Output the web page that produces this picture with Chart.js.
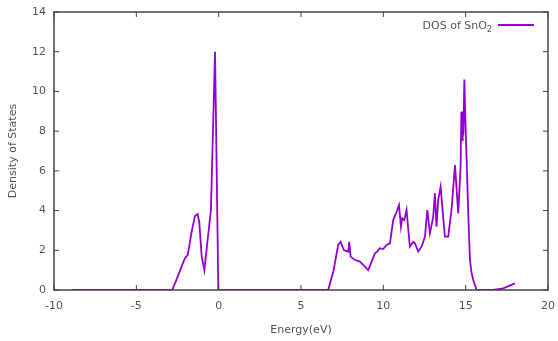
<!DOCTYPE html>
<html>
<head>
<meta charset="utf-8">
<script src="https://cdn.jsdelivr.net/npm/chart.js@4.4.1/dist/chart.umd.min.js"></script>
<style>
  body { margin: 0; background: #fff; }
  #wrap { width: 558px; height: 341px; position: relative; }
</style>
</head>
<body>
<div id="wrap"><canvas id="dosChart"></canvas></div>
<script>
// DATA

const energies = [
  -8.9, -2.82, -2.55, -2.05, -1.88, -1.64, -1.44, -1.28, -1.18, -1.03, -0.87, -0.67, -0.47, -0.22, -0.02,
  6.65, 6.96, 7.26, 7.4, 7.6, 7.87, 7.93, 8.01, 8.28, 8.58, 8.78, 9.08, 9.29, 9.49, 9.63, 9.79, 9.99,
  10.2, 10.4, 10.6, 10.81, 10.95, 11.07, 11.15, 11.27, 11.41, 11.61, 11.81, 11.92, 12.12, 12.32, 12.53,
  12.67, 12.83, 13.03, 13.13, 13.23, 13.33, 13.48, 13.6, 13.74, 13.94, 14.14, 14.35, 14.55, 14.69,
  14.74, 14.78, 14.82, 14.86, 14.92, 15.0, 15.06, 15.15, 15.26, 15.35, 15.46, 15.66, 16.67, 17.28, 17.99
];
const dosValues = [
  0, 0, 0.55, 1.6, 1.76, 2.94, 3.73, 3.83, 3.44, 1.68, 1.0, 2.52, 4.03, 12.0, 0,
  0, 0.92, 2.27, 2.43, 2.01, 1.93, 2.43, 1.68, 1.51, 1.43, 1.26, 1.0, 1.43, 1.85, 1.93, 2.1, 2.06,
  2.27, 2.35, 3.52, 3.94, 4.28, 3.19, 3.61, 3.52, 4.03, 2.18, 2.43, 2.35, 1.93, 2.18, 2.69,
  4.03, 2.85, 3.69, 4.87, 3.19, 4.53, 5.2, 4.0, 2.69, 2.69, 4.03, 6.29, 3.86, 6.2,
  8.98, 7.55, 9.0, 7.8, 10.6, 8.0, 6.55, 4.03, 1.51, 0.9, 0.5, 0, 0, 0.08, 0.33
];
const xTicks = [-10, -5, 0, 5, 10, 15, 20];
const yTicks = [0, 2, 4, 6, 8, 10, 12, 14];

const lineColor = "#9400d3";
const textColor = "#555";
const frameColor = "#444";
const font = "11px 'DejaVu Sans', sans-serif";

// FRAME, TICKS, LABELS AND KEY (gnuplot look)

const gnuplotFrame = {
  id: "gnuplotFrame",
  afterDraw(chart) {
    const ctx = chart.ctx;
    const area = chart.chartArea;
    const xs = chart.scales.x;
    const ys = chart.scales.y;

    ctx.save();
    ctx.strokeStyle = frameColor;
    ctx.lineWidth = 1.5;
    ctx.strokeRect(area.left, area.top, area.right - area.left, area.bottom - area.top);

    // inward ticks, mirrored on opposite sides
    ctx.lineWidth = 1;
    ctx.beginPath();
    xTicks.forEach(v => {
      const px = xs.getPixelForValue(v);
      ctx.moveTo(px, area.bottom); ctx.lineTo(px, area.bottom - 5);
      ctx.moveTo(px, area.top); ctx.lineTo(px, area.top + 5);
    });
    yTicks.forEach(v => {
      const py = ys.getPixelForValue(v);
      ctx.moveTo(area.left, py); ctx.lineTo(area.left + 5, py);
      ctx.moveTo(area.right, py); ctx.lineTo(area.right - 5, py);
    });
    ctx.stroke();

    ctx.fillStyle = textColor;
    ctx.font = font;

    ctx.textAlign = "center";
    ctx.textBaseline = "middle";
    xTicks.forEach(v => {
      ctx.fillText(String(v), xs.getPixelForValue(v), area.bottom + 16);
    });

    ctx.textAlign = "right";
    yTicks.forEach(v => {
      ctx.fillText(String(v), area.left - 8, ys.getPixelForValue(v));
    });

    // axis titles
    ctx.textAlign = "center";
    ctx.fillText("Energy(eV)", (area.left + area.right) / 2, area.bottom + 40);

    ctx.save();
    ctx.translate(13, (area.top + area.bottom) / 2);
    ctx.rotate(-Math.PI / 2);
    ctx.fillText("Density of States", 0, 0);
    ctx.restore();

    // key: text first, then line sample
    const keyY = area.top + 14;
    const sampleLeft = area.right - 50;
    ctx.textAlign = "right";
    ctx.font = "8px 'DejaVu Sans', sans-serif";
    const sub = ctx.measureText("2").width;
    ctx.fillText("2", sampleLeft - 6, keyY + 4);
    ctx.font = font;
    ctx.fillText("DOS of SnO", sampleLeft - 6 - sub, keyY);

    ctx.strokeStyle = lineColor;
    ctx.lineWidth = 2;
    ctx.beginPath();
    ctx.moveTo(sampleLeft, keyY - 1);
    ctx.lineTo(sampleLeft + 36, keyY - 1);
    ctx.stroke();

    ctx.restore();
  }
};

// CHART

const points = energies.map((e, i) => ({ x: e, y: dosValues[i] }));

new Chart(document.getElementById("dosChart").getContext("2d"), {
  type: "scatter",
  data: {
    datasets: [{
      label: "DOS of SnO2",
      data: points,
      showLine: true,
      borderColor: lineColor,
      borderWidth: 1.8,
      pointRadius: 0,
      tension: 0,
      fill: false
    }]
  },
  options: {
    responsive: true,
    maintainAspectRatio: false,
    animation: false,
    layout: { padding: { left: 54, right: 10, top: 12, bottom: 51 } },
    plugins: {
      legend: { display: false },
      tooltip: { enabled: false }
    },
    scales: {
      x: { type: "linear", min: -10, max: 20, display: false },
      y: { type: "linear", min: 0, max: 14, display: false }
    }
  },
  plugins: [gnuplotFrame]
});
</script>
</body>
</html>
